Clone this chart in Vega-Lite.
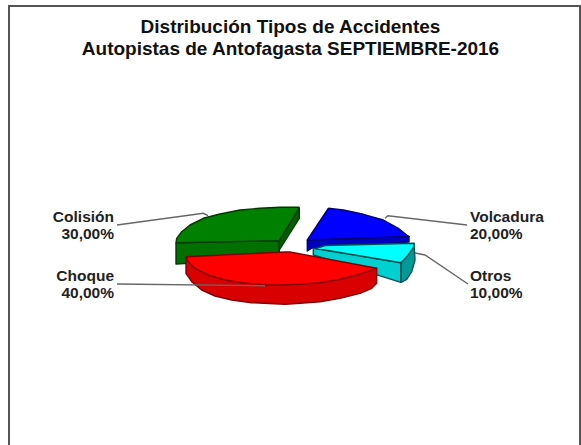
{"$schema":"https://vega.github.io/schema/vega-lite/v6.json","width":581,"height":445,"padding":0,"autosize":{"type":"none"},"background":"white","view":{"stroke":null},"title":{"text":["Distribución Tipos de Accidentes","Autopistas de Antofagasta SEPTIEMBRE-2016"],"font":"Liberation Sans","fontSize":19,"fontWeight":"bold","color":"#111111","lineHeight":22,"anchor":"middle","frame":"group","orient":"top","baseline":"alphabetic","offset":-74},"datasets":{"outline":[{"part":"Colisión lado frontal","ord":1,"u":-114,"v":-20.7},{"part":"Colisión lado frontal","ord":2,"u":-10.7,"v":-18.7},{"part":"Colisión lado frontal","ord":3,"u":-10.7,"v":-36},{"part":"Colisión lado frontal","ord":4,"u":-114,"v":-42},{"part":"Colisión lado frontal","ord":5,"u":-114,"v":-20.7},{"part":"Colisión lado derecho","ord":1,"u":9.3,"v":14.7},{"part":"Colisión lado derecho","ord":2,"u":9.3,"v":3.7},{"part":"Colisión lado derecho","ord":3,"u":-10.7,"v":-28},{"part":"Colisión lado derecho","ord":4,"u":-10.7,"v":-18.7},{"part":"Colisión lado derecho","ord":5,"u":9.3,"v":14.7},{"part":"Colisión cara","ord":1,"u":9.3,"v":14.7},{"part":"Colisión cara","ord":2,"u":-10,"v":14.7},{"part":"Colisión cara","ord":3,"u":-30,"v":13.7},{"part":"Colisión cara","ord":4,"u":-50,"v":12},{"part":"Colisión cara","ord":5,"u":-70,"v":8},{"part":"Colisión cara","ord":6,"u":-86.7,"v":3.7},{"part":"Colisión cara","ord":7,"u":-100,"v":-3},{"part":"Colisión cara","ord":8,"u":-108.3,"v":-9.7},{"part":"Colisión cara","ord":9,"u":-113.3,"v":-16.3},{"part":"Colisión cara","ord":10,"u":-114,"v":-20.7},{"part":"Colisión cara","ord":11,"u":-10.7,"v":-18.7},{"part":"Colisión cara","ord":12,"u":9.3,"v":14.7},{"part":"Volcadura lado","ord":1,"u":17.3,"v":-18},{"part":"Volcadura lado","ord":2,"u":119,"v":-14.5},{"part":"Volcadura lado","ord":3,"u":119,"v":-20},{"part":"Volcadura lado","ord":4,"u":22,"v":-26},{"part":"Volcadura lado","ord":5,"u":17.3,"v":-29},{"part":"Volcadura lado","ord":6,"u":17.3,"v":-18},{"part":"Volcadura cara","ord":1,"u":38.3,"v":13.7},{"part":"Volcadura cara","ord":2,"u":53.3,"v":12},{"part":"Volcadura cara","ord":3,"u":73.3,"v":7.7},{"part":"Volcadura cara","ord":4,"u":93.3,"v":2},{"part":"Volcadura cara","ord":5,"u":108.3,"v":-6.3},{"part":"Volcadura cara","ord":6,"u":116.7,"v":-13},{"part":"Volcadura cara","ord":7,"u":119,"v":-14.5},{"part":"Volcadura cara","ord":8,"u":17.3,"v":-18},{"part":"Volcadura cara","ord":9,"u":38.3,"v":13.7},{"part":"Otros lado frontal","ord":1,"u":23.3,"v":-26.3},{"part":"Otros lado frontal","ord":2,"u":111,"v":-40.7},{"part":"Otros lado frontal","ord":3,"u":111,"v":-60.3},{"part":"Otros lado frontal","ord":4,"u":23.3,"v":-33},{"part":"Otros lado frontal","ord":5,"u":23.3,"v":-26.3},{"part":"Otros lado derecho","ord":1,"u":111,"v":-40.7},{"part":"Otros lado derecho","ord":2,"u":116.7,"v":-34.7},{"part":"Otros lado derecho","ord":3,"u":121.7,"v":-28},{"part":"Otros lado derecho","ord":4,"u":124,"v":-21.3},{"part":"Otros lado derecho","ord":5,"u":125,"v":-38},{"part":"Otros lado derecho","ord":6,"u":121.7,"v":-49.7},{"part":"Otros lado derecho","ord":7,"u":116.7,"v":-57.3},{"part":"Otros lado derecho","ord":8,"u":111,"v":-60.5},{"part":"Otros lado derecho","ord":9,"u":111,"v":-40.7},{"part":"Otros cara","ord":1,"u":26,"v":-26.5},{"part":"Otros cara","ord":2,"u":35,"v":-23.5},{"part":"Otros cara","ord":3,"u":124,"v":-21.3},{"part":"Otros cara","ord":4,"u":124,"v":-24},{"part":"Otros cara","ord":5,"u":121.7,"v":-28},{"part":"Otros cara","ord":6,"u":116.7,"v":-34.7},{"part":"Otros cara","ord":7,"u":111,"v":-40.7},{"part":"Otros cara","ord":8,"u":26,"v":-26.5},{"part":"Choque lado","ord":1,"u":-104,"v":-34.7},{"part":"Choque lado","ord":2,"u":-104,"v":-51.3},{"part":"Choque lado","ord":3,"u":-98.3,"v":-59.7},{"part":"Choque lado","ord":4,"u":-88.3,"v":-68},{"part":"Choque lado","ord":5,"u":-75,"v":-74},{"part":"Choque lado","ord":6,"u":-58.3,"v":-78},{"part":"Choque lado","ord":7,"u":-38.3,"v":-80.7},{"part":"Choque lado","ord":8,"u":-5,"v":-82.3},{"part":"Choque lado","ord":9,"u":10,"v":-81.3},{"part":"Choque lado","ord":10,"u":30,"v":-79.7},{"part":"Choque lado","ord":11,"u":50,"v":-76.3},{"part":"Choque lado","ord":12,"u":70,"v":-71.3},{"part":"Choque lado","ord":13,"u":81.7,"v":-66.3},{"part":"Choque lado","ord":14,"u":86.7,"v":-61.3},{"part":"Choque lado","ord":15,"u":86.7,"v":-46.3},{"part":"Choque lado","ord":16,"u":-104,"v":-34.7},{"part":"Choque cara","ord":1,"u":-103.3,"v":-34.7},{"part":"Choque cara","ord":2,"u":-5,"v":-30},{"part":"Choque cara","ord":3,"u":0,"v":-30},{"part":"Choque cara","ord":4,"u":86.7,"v":-46.3},{"part":"Choque cara","ord":5,"u":80,"v":-48.7},{"part":"Choque cara","ord":6,"u":66.7,"v":-53},{"part":"Choque cara","ord":7,"u":50,"v":-57.3},{"part":"Choque cara","ord":8,"u":30,"v":-60.7},{"part":"Choque cara","ord":9,"u":10,"v":-62.3},{"part":"Choque cara","ord":10,"u":-10,"v":-63},{"part":"Choque cara","ord":11,"u":-25,"v":-63},{"part":"Choque cara","ord":12,"u":-48.3,"v":-60.7},{"part":"Choque cara","ord":13,"u":-65,"v":-58},{"part":"Choque cara","ord":14,"u":-81.7,"v":-53},{"part":"Choque cara","ord":15,"u":-95,"v":-46.3},{"part":"Choque cara","ord":16,"u":-101.7,"v":-39.7},{"part":"Choque cara","ord":17,"u":-103.3,"v":-34.7}],"leaders":[{"tipo":"Colisión","ord":1,"u":-173,"v":-3},{"tipo":"Colisión","ord":2,"u":-86.7,"v":8.7},{"tipo":"Colisión","ord":3,"u":-82,"v":6.3},{"tipo":"Choque","ord":1,"u":-173,"v":-62},{"tipo":"Choque","ord":2,"u":-25,"v":-63.7},{"tipo":"Volcadura","ord":1,"u":177,"v":-3},{"tipo":"Volcadura","ord":2,"u":98,"v":6.3},{"tipo":"Volcadura","ord":3,"u":95,"v":3.7},{"tipo":"Otros","ord":1,"u":178,"v":-62},{"tipo":"Otros","ord":2,"u":135,"v":-33},{"tipo":"Otros","ord":3,"u":125,"v":-31}],"frame":[{"ord":1,"u":-281,"v":-223},{"ord":2,"u":-281,"v":216},{"ord":3,"u":290,"v":216},{"ord":4,"u":290,"v":-223}],"labels":[{"texto":"Colisión\n30,00%","lado":"izquierda","u":-176,"v":0},{"texto":"Choque\n40,00%","lado":"izquierda","u":-176,"v":-59},{"texto":"Volcadura\n20,00%","lado":"derecha","u":180,"v":0},{"texto":"Otros\n10,00%","lado":"derecha","u":180,"v":-59}]},"encoding":{"x":{"field":"u","type":"quantitative","scale":{"domain":[-290,291]},"axis":null},"y":{"field":"v","type":"quantitative","scale":{"domain":[-223,222]},"axis":null}},"layer":[{"data":{"name":"frame"},"mark":{"type":"line","stroke":"#555555","strokeWidth":2,"clip":false},"encoding":{"order":{"field":"ord"}}},{"data":{"name":"outline"},"mark":{"type":"line","strokeWidth":1.4,"strokeJoin":"round"},"encoding":{"order":{"field":"ord"},"fill":{"field":"part","type":"nominal","legend":null,"scale":{"domain":["Colisión lado frontal","Colisión lado derecho","Colisión cara","Volcadura lado","Volcadura cara","Otros lado frontal","Otros lado derecho","Otros cara","Choque lado","Choque cara"],"range":["#007000","#006000","#008000","#0000c0","#0000ff","#00d0d0","#009a9a","#00ffff","#d80000","#ff0000"]}},"stroke":{"field":"part","type":"nominal","legend":null,"scale":{"domain":["Colisión lado frontal","Colisión lado derecho","Colisión cara","Volcadura lado","Volcadura cara","Otros lado frontal","Otros lado derecho","Otros cara","Choque lado","Choque cara"],"range":["#003800","#003800","#003800","#000070","#000070","#005050","#005050","#005050","#800000","#800000"]}}}},{"data":{"name":"leaders"},"mark":{"type":"line","stroke":"#666666","strokeWidth":1.4},"encoding":{"order":{"field":"ord"},"detail":{"field":"tipo"}}},{"data":{"name":"labels"},"transform":[{"filter":"datum.lado === 'izquierda'"}],"mark":{"type":"text","align":"right","baseline":"alphabetic","font":"Liberation Sans","fontSize":15.5,"fontWeight":"bold","color":"#222222","lineBreak":"\n","lineHeight":16.5},"encoding":{"text":{"field":"texto"}}},{"data":{"name":"labels"},"transform":[{"filter":"datum.lado === 'derecha'"}],"mark":{"type":"text","align":"left","baseline":"alphabetic","font":"Liberation Sans","fontSize":15.5,"fontWeight":"bold","color":"#222222","lineBreak":"\n","lineHeight":16.5},"encoding":{"text":{"field":"texto"}}}]}
